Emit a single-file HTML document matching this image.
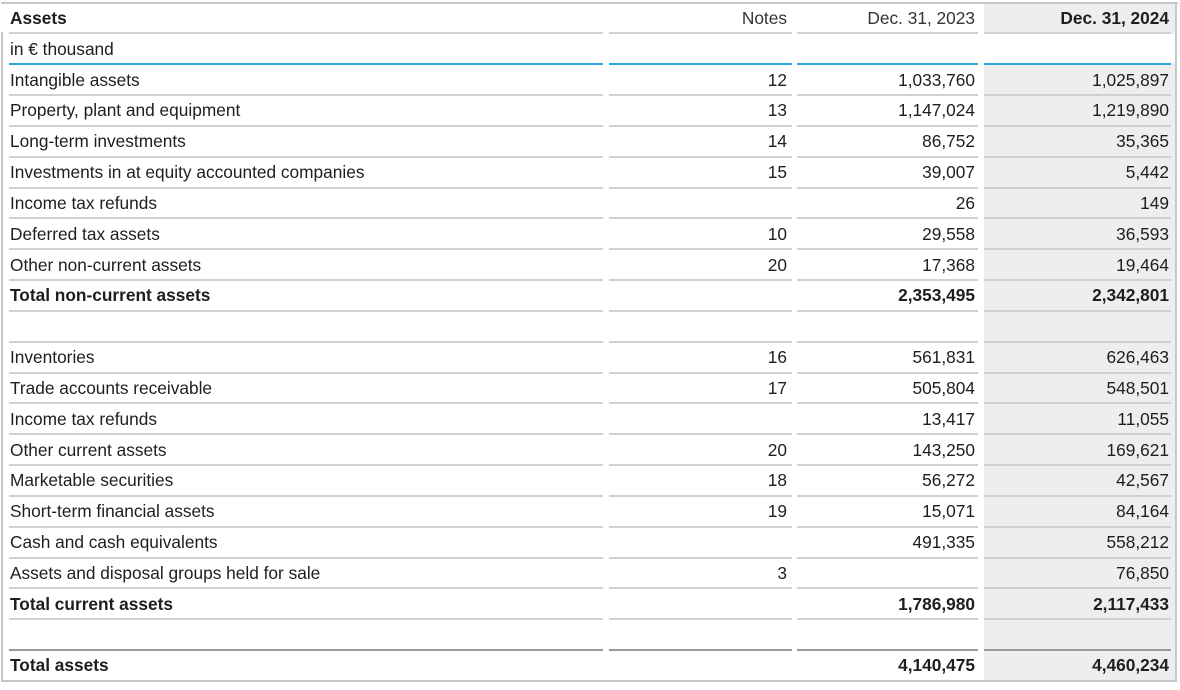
<!DOCTYPE html>
<html><head><meta charset="utf-8">
<style>
html,body{margin:0;padding:0;background:#fff;}
body{width:1180px;height:690px;position:relative;overflow:hidden;font-family:"Liberation Sans",Arial,sans-serif;font-size:17.3px;color:#1e1e1e;}
.abs{position:absolute;}
.grey{left:984px;top:4px;height:676px;background:#eeeeee;width:192px;}
.wht{left:984px;top:34px;width:192px;height:29px;background:#fff;}
.ln{position:absolute;left:9px;width:1162px;height:2px;background:#d0d0d0;}
.blue{background:#29a9e0;}
.dark{background:#9a9a9a;}
.gap{position:absolute;top:4px;height:676px;background:#fff;}
.bt{left:1px;top:2px;width:1177px;height:2px;background:#c6c6c6;}
.bl{left:1px;top:32px;width:2px;height:650px;background:#c6c6c6;}
.br{left:1175px;top:2px;width:2px;height:680px;background:#c6c6c6;}
.bb{left:1px;top:680px;width:1176px;height:2px;background:#c6c6c6;}
.r{position:absolute;left:0;width:1180px;height:20px;line-height:20px;white-space:nowrap;}
.r span{position:absolute;top:0;}
.c1{left:10px;}
.c2{left:609px;width:178px;text-align:right;}
.c3{left:797px;width:178px;text-align:right;}
.c4{left:985px;width:184px;text-align:right;}
.b{font-weight:bold;}
.h{color:#333;}
</style></head><body>
<div class="abs grey"></div>
<div class="abs wht"></div>

<div class="ln" style="top:32.3px"></div>
<div class="ln blue" style="top:63.3px"></div>
<div class="ln" style="top:94.13px"></div>
<div class="ln" style="top:124.96px"></div>
<div class="ln" style="top:155.79px"></div>
<div class="ln" style="top:186.62px"></div>
<div class="ln" style="top:217.45px"></div>
<div class="ln" style="top:248.28px"></div>
<div class="ln" style="top:279.11px"></div>
<div class="ln" style="top:309.94px"></div>
<div class="ln" style="top:340.77px"></div>
<div class="ln" style="top:371.6px"></div>
<div class="ln" style="top:402.43px"></div>
<div class="ln" style="top:433.26px"></div>
<div class="ln" style="top:464.09px"></div>
<div class="ln" style="top:494.92px"></div>
<div class="ln" style="top:525.75px"></div>
<div class="ln" style="top:556.58px"></div>
<div class="ln" style="top:587.41px"></div>
<div class="ln" style="top:618.24px"></div>
<div class="ln dark" style="top:649.07px"></div>

<div class="gap" style="left:603px;width:6px"></div>
<div class="gap" style="left:792px;width:5px"></div>
<div class="gap" style="left:978px;width:6px"></div>

<div class="abs bt"></div>
<div class="abs bl"></div>
<div class="abs br"></div>
<div class="abs bb"></div>

<div class="r" style="top:8px"><span class="c1 b">Assets</span><span class="c2 h">Notes</span><span class="c3 h">Dec. 31, 2023</span><span class="c4 b">Dec. 31, 2024</span></div>
<div class="r" style="top:38.8px"><span class="c1">in € thousand</span></div>
<div class="r" style="top:69.63px"><span class="c1">Intangible assets</span><span class="c2">12</span><span class="c3">1,033,760</span><span class="c4">1,025,897</span></div>
<div class="r" style="top:100.46px"><span class="c1">Property, plant and equipment</span><span class="c2">13</span><span class="c3">1,147,024</span><span class="c4">1,219,890</span></div>
<div class="r" style="top:131.29px"><span class="c1">Long-term investments</span><span class="c2">14</span><span class="c3">86,752</span><span class="c4">35,365</span></div>
<div class="r" style="top:162.12px"><span class="c1">Investments in at equity accounted companies</span><span class="c2">15</span><span class="c3">39,007</span><span class="c4">5,442</span></div>
<div class="r" style="top:192.95px"><span class="c1">Income tax refunds</span><span class="c3">26</span><span class="c4">149</span></div>
<div class="r" style="top:223.78px"><span class="c1">Deferred tax assets</span><span class="c2">10</span><span class="c3">29,558</span><span class="c4">36,593</span></div>
<div class="r" style="top:254.61px"><span class="c1">Other non-current assets</span><span class="c2">20</span><span class="c3">17,368</span><span class="c4">19,464</span></div>
<div class="r b" style="top:285.44px"><span class="c1">Total non-current assets</span><span class="c3">2,353,495</span><span class="c4">2,342,801</span></div>
<div class="r" style="top:347.1px"><span class="c1">Inventories</span><span class="c2">16</span><span class="c3">561,831</span><span class="c4">626,463</span></div>
<div class="r" style="top:377.93px"><span class="c1">Trade accounts receivable</span><span class="c2">17</span><span class="c3">505,804</span><span class="c4">548,501</span></div>
<div class="r" style="top:408.76px"><span class="c1">Income tax refunds</span><span class="c3">13,417</span><span class="c4">11,055</span></div>
<div class="r" style="top:439.59px"><span class="c1">Other current assets</span><span class="c2">20</span><span class="c3">143,250</span><span class="c4">169,621</span></div>
<div class="r" style="top:470.42px"><span class="c1">Marketable securities</span><span class="c2">18</span><span class="c3">56,272</span><span class="c4">42,567</span></div>
<div class="r" style="top:501.25px"><span class="c1">Short-term financial assets</span><span class="c2">19</span><span class="c3">15,071</span><span class="c4">84,164</span></div>
<div class="r" style="top:532.08px"><span class="c1">Cash and cash equivalents</span><span class="c3">491,335</span><span class="c4">558,212</span></div>
<div class="r" style="top:562.91px"><span class="c1">Assets and disposal groups held for sale</span><span class="c2">3</span><span class="c4">76,850</span></div>
<div class="r b" style="top:593.74px"><span class="c1">Total current assets</span><span class="c3">1,786,980</span><span class="c4">2,117,433</span></div>
<div class="r b" style="top:655.4px"><span class="c1">Total assets</span><span class="c3">4,140,475</span><span class="c4">4,460,234</span></div>
</body></html>
